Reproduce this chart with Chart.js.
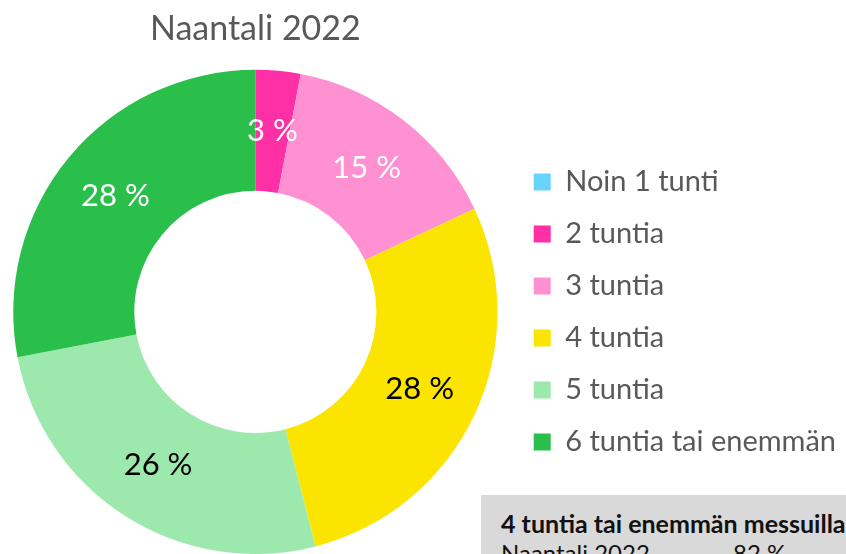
<!DOCTYPE html>
<html>
<head>
<meta charset="utf-8">
<script src="https://cdn.jsdelivr.net/npm/chart.js@4"></script>
<style>
  html, body { margin: 0; padding: 0; background: #fff; overflow: hidden; }
  #wrap { position: relative; width: 846px; height: 554px; overflow: hidden; }
  #chart { position: absolute; left: 0; top: 0; }
  #summary {
    position: absolute; left: 481px; top: 495px; width: 420px; height: 80px;
    background: #d9d9d9; font-family: Lato, sans-serif; color: #111;
  }
  #summary .head { position: absolute; left: 20px; top: 14px; font-size: 25px; font-weight: bold; white-space: nowrap; line-height: 28px; }
  #summary .row { position: absolute; left: 20px; top: 44px; font-size: 24px; white-space: nowrap; line-height: 28px; }
  #summary .val { position: absolute; left: 252px; top: 44px; font-size: 24px; line-height: 28px; }
</style>
</head>
<body>
<div id="wrap">
  <canvas id="chart" width="846" height="554"></canvas>
  <div id="summary">
    <div class="head" id="sumHead"></div>
    <div class="row" id="sumRow"></div>
    <div class="val" id="sumVal"></div>
  </div>
</div>
<script>
const chartTitle = 'Naantali 2022';
const categories = ['Noin 1 tunti', '2 tuntia', '3 tuntia', '4 tuntia', '5 tuntia', '6 tuntia tai enemmän'];
const shares = [0, 3, 15, 28, 26, 28];
const sliceColors = ['#66d3f8', '#ff2fa6', '#ff91d3', '#fbe400', '#9de9ad', '#2abf4b'];
const labelColors = ['#fff', '#fff', '#fff', '#000', '#000', '#fff'];

// yhteenvetolaatikko oikeassa alakulmassa
const summaryTitle = '4 tuntia tai enemmän messuilla';
const summaryRow = 'Naantali 2022';
const summaryValue = '82 %';

document.getElementById('sumHead').textContent = summaryTitle;
document.getElementById('sumRow').textContent = summaryRow;
document.getElementById('sumVal').textContent = summaryValue;

// prosenttiluvut siivujen keskelle
const sliceLabels = {
  id: 'sliceLabels',
  afterDatasetsDraw(chart) {
    const { ctx } = chart;
    const meta = chart.getDatasetMeta(0);
    ctx.save();
    ctx.font = '31px Lato, sans-serif';
    ctx.textAlign = 'center';
    ctx.textBaseline = 'middle';
    meta.data.forEach((arc, i) => {
      const v = shares[i];
      if (!v) return;
      const p = arc.getCenterPoint();
      ctx.fillStyle = labelColors[i];
      ctx.fillText(v + ' %', p.x, p.y);
    });
    ctx.restore();
  }
};

new Chart(document.getElementById('chart').getContext('2d'), {
  type: 'doughnut',
  data: {
    labels: categories,
    datasets: [{
      data: shares,
      backgroundColor: sliceColors,
      borderWidth: 0,
    }]
  },
  options: {
    responsive: false,
    animation: false,
    cutout: '50%',
    layout: { padding: 0 },
    plugins: {
      tooltip: { enabled: false },
      title: {
        display: true,
        text: chartTitle,
        fullSize: false,
        color: '#595959',
        font: { family: 'Lato, sans-serif', size: 34, weight: 'normal' },
        padding: { top: 9, bottom: 20 }
      },
      legend: {
        position: 'right',
        align: 'center',
        fullSize: false,
        labels: {
          boxWidth: 17,
          boxHeight: 17,
          padding: 23,
          color: '#595959',
          font: { family: 'Lato, sans-serif', size: 29 }
        }
      }
    }
  },
  plugins: [sliceLabels]
});
</script>
</body>
</html>
